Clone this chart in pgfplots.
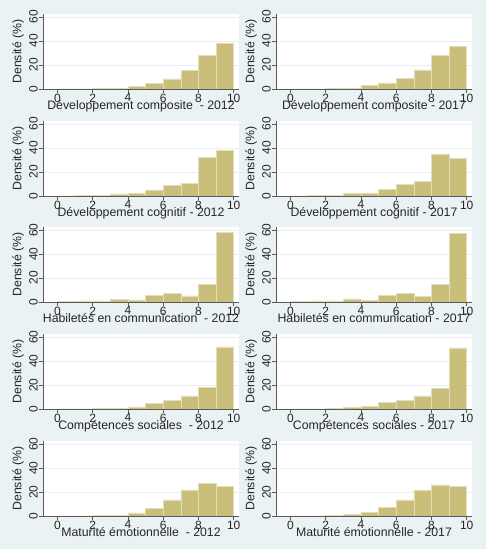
\documentclass[border=0pt]{standalone}
\usepackage{pgfplots}
\pgfplotsset{compat=1.18}
\usepackage{fontspec}
\setmainfont{Liberation Sans}
\definecolor{bg}{RGB}{234,242,243}
\definecolor{barc}{RGB}{201,190,122}
\definecolor{barl}{RGB}{226,221,186}
\definecolor{gridc}{RGB}{232,240,241}
\newcommand{\tf}{\fontsize{12}{13}\selectfont}
\newcommand{\lf}{\fontsize{12.3}{14}\selectfont}
\pgfplotsset{panel/.style={
  scale only axis, width=196pt, height=75pt,
  xmin=-0.82, xmax=10.3, ymin=0, ymax=62.5,
  axis x line*=bottom, axis y line*=left,
  axis line style={black!65, line width=0.6pt},
  xtick={0,2,...,10}, ytick={0,20,40,60},
  tick align=outside, major tick length=4pt,
  tick style={black!65, line width=0.6pt},
  ymajorgrids, grid style={gridc, line width=0.6pt},
  axis background/.style={fill=white},
  /pgf/number format/assume math mode=true,
  tick label style={font=\tf},
  yticklabel style={rotate=90, anchor=south, inner sep=1pt, text=black!85},
  xticklabel style={inner sep=0.5pt, anchor=north, text=black!85},
  ylabel={\lf Densité (\%)},
  every axis y label/.style={at={(axis description cs:0,0.5)}, xshift=-25pt, anchor=center, rotate=90, inner sep=0pt, text=black!85},
  every axis x label/.style={at={(axis description cs:0.5,0)}, anchor=north, inner sep=0pt, yshift=-11.5pt, text=black!85},
  anchor=south west,
}}
\newcommand{\panel}[4]{%
\begin{axis}[panel, at={(#1pt,#2pt)}, xlabel={\lf #3}]
\addplot[ybar interval, fill=barc, draw=barl, line width=0.6pt] coordinates {#4};
\end{axis}}
\begin{document}
\begin{tikzpicture}
\useasboundingbox (0,0) rectangle (486pt,549pt);
\fill[bg] (0,0) rectangle (486pt,549pt);
% row 1
\panel{43}{460}{Développement composite\ \ - 2012}{(0,0) (1,0.1) (2,0.2) (3,0.5) (4,2.2) (5,4.5) (6,8.4) (7,15.4) (8,27.9) (9,38.2) (10,38.2)}
\panel{276}{460}{Développement composite - 2017}{(0,0) (1,0.1) (2,0.2) (3,0.8) (4,2.8) (5,5.0) (6,8.9) (7,15.9) (8,28.2) (9,35.4) (10,35.4)}
% row 2
\panel{43}{353}{Développement cognitif - 2012}{(0,0.1) (1,0.2) (2,0.3) (3,1.7) (4,2.3) (5,5.1) (6,8.5) (7,10.5) (8,32.4) (9,37.8) (10,37.8)}
\panel{276}{353}{Développement cognitif - 2017}{(0,0.1) (1,0.2) (2,0.3) (3,2.0) (4,2.3) (5,5.4) (6,9.7) (7,11.9) (8,35.0) (9,31.6) (10,31.6)}
% row 3
\panel{43}{247}{Habiletés en communication\ \ - 2012}{(0,0.2) (1,0.9) (2,0.9) (3,2.3) (4,1.7) (5,5.7) (6,7.1) (7,5.1) (8,14.9) (9,58.0) (10,58.0)}
\panel{276}{247}{Habiletés en communication - 2017}{(0,0.2) (1,0.9) (2,0.9) (3,2.6) (4,1.4) (5,5.7) (6,7.1) (7,4.6) (8,14.6) (9,57.4) (10,57.4)}
% row 4
\panel{43}{140}{Compétences sociales\ \ - 2012}{(0,0.1) (1,0.1) (2,0.3) (3,0.6) (4,1.7) (5,4.9) (6,6.9) (7,10.9) (8,17.7) (9,51.7) (10,51.7)}
\panel{276}{140}{Compétences sociales - 2017}{(0,0.1) (1,0.1) (2,0.3) (3,1.1) (4,2.3) (5,5.4) (6,7.1) (7,10.9) (8,17.4) (9,50.9) (10,50.9)}
% row 5
\panel{43}{33}{Maturité émotionnelle\ \ - 2012}{(0,0.1) (1,0.1) (2,0.2) (3,0.6) (4,2.6) (5,6.6) (6,13.4) (7,21.7) (8,27.1) (9,24.9) (10,24.9)}
\panel{276}{33}{Maturité émotionnelle - 2017}{(0,0.1) (1,0.1) (2,0.3) (3,1.4) (4,3.1) (5,7.1) (6,13.4) (7,21.7) (8,26.0) (9,24.9) (10,24.9)}
\end{tikzpicture}
\end{document}
